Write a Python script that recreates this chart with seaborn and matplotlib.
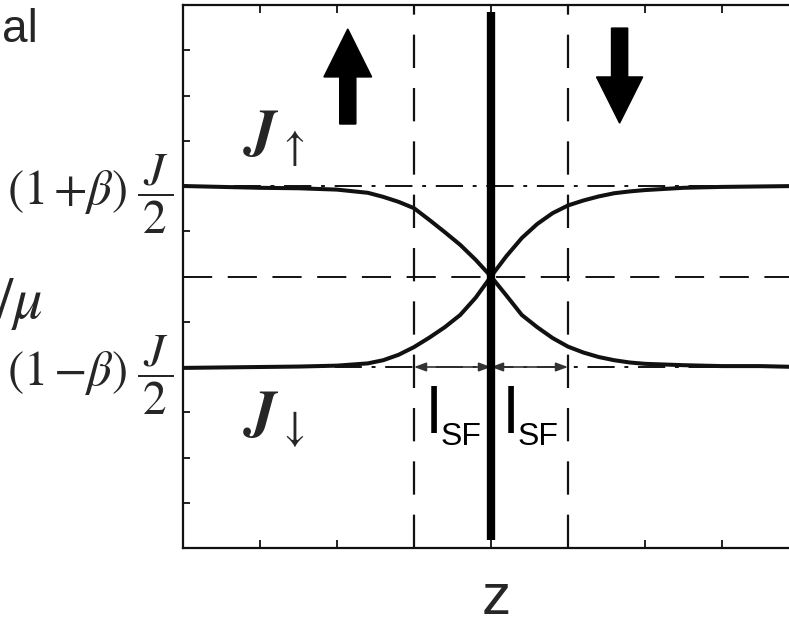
import matplotlib
matplotlib.use("Agg")
import matplotlib.pyplot as plt
import pandas as pd
import seaborn as sns
from matplotlib.patches import FancyArrow

# Position along the stack (spin-flip lengths, interface at z = 4)
z = [0.0, 0.5, 1.0, 1.5, 2.0, 2.4, 2.6, 2.8, 3.0, 3.2, 3.4, 3.6, 3.8, 4.0,
     4.2, 4.4, 4.6, 4.8, 5.0, 5.2, 5.4, 5.6, 5.8, 6.0, 6.5, 7.0, 7.5, 8.0]
# Spin-up and spin-down current densities
j_up = [8.0, 7.98, 7.96, 7.95, 7.92, 7.85, 7.76, 7.65, 7.51, 7.25, 6.98, 6.70, 6.37, 6.0,
        5.58, 5.15, 4.88, 4.64, 4.45, 4.32, 4.22, 4.15, 4.10, 4.07, 4.04, 4.02, 4.02, 4.0]
j_down = [3.98, 3.99, 4.0, 4.01, 4.03, 4.08, 4.15, 4.27, 4.44, 4.65, 4.88, 5.15, 5.53, 6.0,
          6.45, 6.85, 7.16, 7.40, 7.57, 7.68, 7.77, 7.84, 7.88, 7.91, 7.96, 7.98, 7.99, 8.0]

level_high = 8      # (1+beta) J/2
level_mid = 6       # J/2
level_low = 4       # (1-beta) J/2
interface = 4
sf_edges = [3, 5]
level_ticks = [4, 8]
level_labels = [r"$(1\,{-}\beta)$", r"$(1\,{+}\beta)$"]
level_factor = r"$\genfrac{}{}{2.6}{0}{\,J\,}{\,2\,}$"

sns.set_theme(style="ticks")
plt.rcParams["font.family"] = ["Liberation Sans", "DejaVu Sans"]
plt.rcParams["mathtext.fontset"] = "stix"

W, H = 789, 628
fig = plt.figure(figsize=(W / 100, H / 100), dpi=100)
fig.patch.set_facecolor("white")
ax = fig.add_axes([183 / W, 80 / H, 616 / W, 543 / H])
ax.set_facecolor("white")

ink = "#111111"

# reference levels and spin-flip boundaries
dashdot = (0, (14, 5, 2, 5))
ax.axhline(level_high, color=ink, lw=1.4, ls=dashdot, zorder=1)
ax.axhline(level_low, color=ink, lw=1.4, ls=dashdot, zorder=1)
ax.axhline(level_mid, color=ink, lw=1.4, ls=(0, (15, 8)), zorder=1)
for x in sf_edges:
    ax.axvline(x, color=ink, lw=1.6, ls=(0, (15, 9)), zorder=1)

df = pd.DataFrame({
    "z": z + z,
    "J": j_up + j_down,
    "spin": ["up"] * len(z) + ["down"] * len(z),
})
sns.lineplot(data=df, x="z", y="J", hue="spin",
             palette={"up": ink, "down": ink}, estimator=None,
             lw=2.9, legend=False, ax=ax, zorder=3)

# interface between the two ferromagnets
ax.plot([interface, interface], [0.18, 11.85], color="black", lw=6,
        solid_capstyle="butt", zorder=4)

# magnetisation arrows
ax.add_patch(FancyArrow(2.14, 9.37, 0, 2.1, width=0.21, head_width=0.62,
                        head_length=1.06, length_includes_head=True,
                        color="black", zorder=4))
ax.add_patch(FancyArrow(5.67, 11.49, 0, -2.1, width=0.21, head_width=0.6,
                        head_length=1.02, length_includes_head=True,
                        color="black", zorder=4))

# spin-flip length markers
for a, b in [(sf_edges[0], interface), (interface, sf_edges[1])]:
    ax.annotate("", xy=(a, level_low), xytext=(b, level_low),
                arrowprops=dict(arrowstyle="<|-|>,head_length=0.6,head_width=0.22",
                                lw=1.2, color="#333333", shrinkA=0, shrinkB=0),
                zorder=3)
for x0 in [3.16, 4.16]:
    ax.text(x0, 2.54, "l", fontsize=46, ha="left", va="baseline", color="black")
    ax.text(x0 + 0.19, 2.28, "SF", fontsize=23, ha="left", va="baseline", color="black")

ax.text(0.78, 8.75, r"$\mathbfit{J}_{\uparrow}$", fontsize=44, ha="left", va="baseline")
ax.text(0.78, 2.54, r"$\mathbfit{J}_{\downarrow}$", fontsize=44, ha="left", va="baseline")

ax.set_xlim(0, 8)
ax.set_ylim(0, 12)
ax.set_xticks(range(0, 9))
ax.set_xticklabels([])
ax.set_yticks(level_ticks)
ax.set_yticklabels(level_labels, fontsize=35)
ax.set_yticks(range(0, 13), minor=True)
ax.tick_params(axis="both", which="both", direction="in", color=ink,
               width=1.3, top=True, right=True)
ax.tick_params(axis="y", which="major", length=5, pad=40)
ax.tick_params(axis="y", which="minor", length=5)
ax.tick_params(axis="x", which="both", length=6)
for s in ax.spines.values():
    s.set_color(ink)
    s.set_linewidth(1.6)

# J/2 factor next to each level label
ytrans = ax.get_yaxis_transform()
for lv in level_ticks:
    ax.text(-46 / 616, lv - 0.18, level_factor, fontsize=34, ha="left",
            va="center", transform=ytrans, clip_on=False)

ax.set_xlabel("")
ax.set_ylabel("")
fig.text(496 / W, 1 - 614 / H, "z", fontsize=42, ha="center", va="baseline")

fig.text(38 / W, 1 - 42 / H, "al", fontsize=33, ha="right", va="baseline")
fig.text(43 / W, 1 - 318 / H, r"$/\mu$", fontsize=42, ha="right", va="baseline")

fig.savefig("out.png", dpi=100, facecolor="white")
